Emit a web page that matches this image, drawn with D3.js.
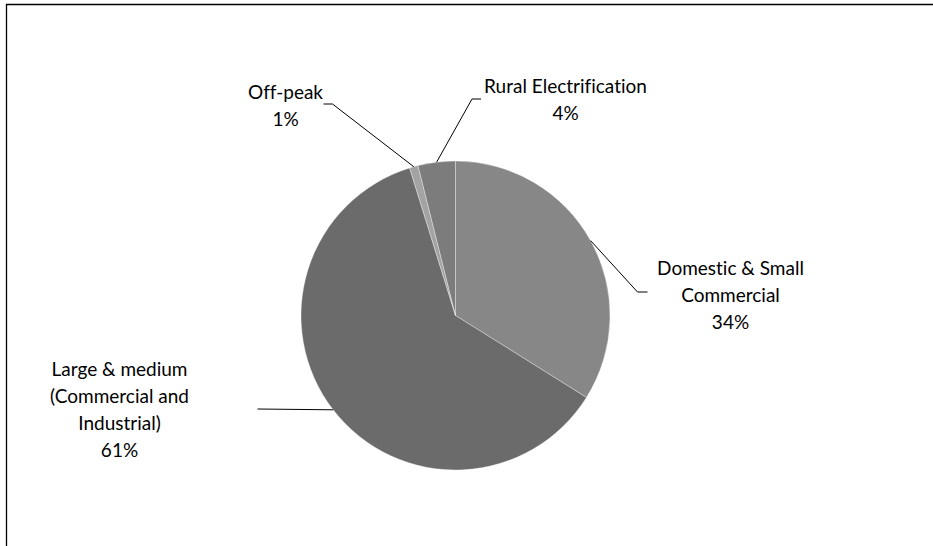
<!DOCTYPE html>
<html>
<head>
<meta charset="utf-8">
<script src="https://cdn.jsdelivr.net/npm/d3@7"></script>
<style>
  html, body { margin: 0; padding: 0; background: #fff; }
  svg { display: block; }
  text { font-family: Lato, "Open Sans", sans-serif; fill: #000; font-variant-ligatures: none; font-feature-settings: "liga" 0, "dlig" 0; }
</style>
</head>
<body>
<div id="chart"></div>
<script>
// data, clockwise from 12 o'clock
const categories = ['Domestic & Small Commercial', 'Large & medium (Commercial and Industrial)', 'Off-peak', 'Rural Electrification'];
const shares = [33.9, 61.3, 0.9, 3.9];
const percentLabels = ['34%', '61%', '1%', '4%'];
const labelLines = [
  ['Domestic & Small', 'Commercial'],
  ['Large & medium', '(Commercial and', 'Industrial)'],
  ['Off-peak'],
  ['Rural Electrification']
];
const colors = ['#878787', '#6b6b6b', '#a3a3a3', '#7c7c7c'];

document.addEventListener('DOMContentLoaded', () => {
   drawPie();
});

function drawPie() {
   const width = 933;
   const height = 546;
   const cx = 455.5;
   const cy = 315.5;
   const radius = 154.5;
   const lineHeight = 27;

   // where each label block sits and where its leader line bends (relative to pie centre)
   const labelLayout = [
      { x: 275, y: -20, elbow: [182, -23.5], end: [192, -23.5] },
      { x: -336, y: 94, elbow: null, end: [-198, 93.5] },
      { x: -170, y: -210, elbow: [-123, -211.5], end: [-132, -211.5] },
      { x: 110, y: -216, elbow: [16.5, -216.5], end: [25.5, -216.5] }
   ];

   const data = categories.map((c, i) => ({
      category: c, value: shares[i], pct: percentLabels[i], lines: labelLines[i], color: colors[i], layout: labelLayout[i]
   }));

   const svg = d3.select('#chart')
                 .append('svg')
                 .attr('width', width)
                 .attr('height', height);

   // frame
   svg.append('path')
      .attr('d', `M6.5,${height} V4.5 H${width}`)
      .attr('fill', 'none')
      .attr('stroke', '#000')
      .attr('stroke-width', 1.3);

   const pie = d3.pie().sort(null).value(d => d.value);
   const arc = d3.arc().innerRadius(0).outerRadius(radius);
   const arcs = pie(data);

   const g = svg.append('g').attr('transform', `translate(${cx},${cy})`);

   g.selectAll('path.slice')
    .data(arcs)
    .enter()
    .append('path')
    .attr('class', 'slice')
    .attr('d', arc)
    .attr('fill', d => d.data.color)
    .attr('stroke', '#fff')
    .attr('stroke-opacity', 0.45)
    .attr('stroke-width', 0.75);

   // leader lines
   g.selectAll('path.leader')
    .data(arcs)
    .enter()
    .append('path')
    .attr('class', 'leader')
    .attr('fill', 'none')
    .attr('stroke', '#000')
    .attr('stroke-width', 1)
    .attr('d', d => {
       const mid = (d.startAngle + d.endAngle) / 2;
       const p0 = [Math.sin(mid) * radius, -Math.cos(mid) * radius];
       const L = d.data.layout;
       const pts = L.elbow ? [p0, L.elbow, L.end] : [p0, L.end];
       return d3.line()(pts);
    });

   // labels
   const labels = g.selectAll('text.label')
    .data(arcs)
    .enter()
    .append('text')
    .attr('class', 'label')
    .attr('text-anchor', 'middle')
    .style('font-size', '19px');

   labels.each(function(d) {
      const allLines = d.data.lines.concat([d.data.pct]);
      const n = allLines.length;
      const t = d3.select(this);
      allLines.forEach((s, i) => {
         t.append('tspan')
          .attr('x', d.data.layout.x)
          .attr('y', d.data.layout.y + (i - (n - 1) / 2) * lineHeight)
          .attr('dy', '0.35em')
          .text(s);
      });
   });
}
</script>
</body>
</html>
